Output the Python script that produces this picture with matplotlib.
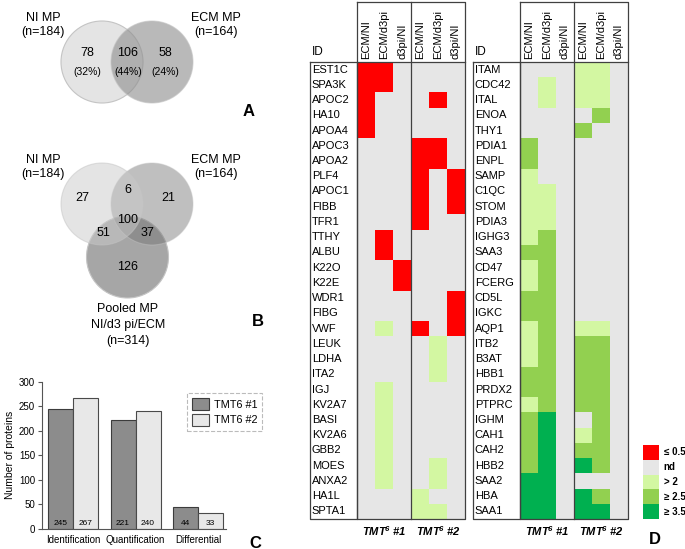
"""
Proteomics summary figure: Venn diagrams (A, B), protein counts (C)
and ratio heatmap of differential proteins (D).
"""
import numpy as np
import matplotlib
matplotlib.use('Agg')
import matplotlib.pyplot as plt
from matplotlib.colors import ListedColormap, BoundaryNorm
from matplotlib.patches import Circle

plt.rcParams['font.family'] = ['Liberation Sans', 'DejaVu Sans']
plt.rcParams['mathtext.fontset'] = 'custom'
plt.rcParams['mathtext.rm'] = 'Liberation Sans:bold:italic'
plt.rcParams['mathtext.it'] = 'Liberation Sans:bold:italic'
plt.rcParams['mathtext.bf'] = 'Liberation Sans:bold:italic'

W, H = 685, 549

# ---- panel A: two-set venn
venn2_names = ['NI MP\n(n=184)', 'ECM MP\n(n=164)']
venn2_counts = [78, 106, 58]
venn2_pct = [32, 44, 24]

# ---- panel B: three-set venn (NI only, NI&ECM, ECM only, all, NI&pooled, ECM&pooled, pooled only)
venn3_names = ['NI MP\n(n=184)', 'ECM MP\n(n=164)', 'Pooled MP\nNI/d3 pi/ECM\n(n=314)']
venn3_counts = [27, 6, 21, 100, 51, 37, 126]

# ---- panel C
categories = ['Identification', 'Quantification', 'Differential']
tmt1 = [245, 221, 44]
tmt2 = [267, 240, 33]

# ---- panel D
ratio_cols = ['ECM/NI', 'ECM/d3pi', 'd3pi/NI']
# r: <=0.5, .: nd, 1: >2, 2: >=2.5, 3: >=3.5 ; columns TMT6#1 x3 then TMT6#2 x3
ids_left = ['EST1C', 'SPA3K', 'APOC2', 'HA10', 'APOA4', 'APOC3', 'APOA2', 'PLF4',
            'APOC1', 'FIBB', 'TFR1', 'TTHY', 'ALBU', 'K22O', 'K22E', 'WDR1', 'FIBG',
            'VWF', 'LEUK', 'LDHA', 'ITA2', 'IGJ', 'KV2A7', 'BASI', 'KV2A6', 'GBB2',
            'MOES', 'ANXA2', 'HA1L', 'SPTA1']
codes_left = ['rr....', 'rr....', 'r...r.', 'r.....', 'r.....', '...rr.', '...rr.',
              '...r.r', '...r.r', '...r.r', '...r..', '.r....', '.r....', '..r...',
              '..r...', '.....r', '.....r', '.1.r.r', '....1.', '....1.', '....1.',
              '.1....', '.1....', '.1....', '.1....', '.1....', '.1..1.', '.1..1.',
              '...1..', '...11.']
ids_right = ['ITAM', 'CDC42', 'ITAL', 'ENOA', 'THY1', 'PDIA1', 'ENPL', 'SAMP', 'C1QC',
             'STOM', 'PDIA3', 'IGHG3', 'SAA3', 'CD47', 'FCERG', 'CD5L', 'IGKC', 'AQP1',
             'ITB2', 'B3AT', 'HBB1', 'PRDX2', 'PTPRC', 'IGHM', 'CAH1', 'CAH2', 'HBB2',
             'SAA2', 'HBA', 'SAA1']
codes_right = ['...11.', '.1.11.', '.1.11.', '....2.', '...2..', '2.....', '2.....',
               '1.....', '11....', '11....', '11....', '12....', '22....', '12....',
               '12....', '22....', '22....', '12.11.', '12.22.', '12.22.', '22.22.',
               '22.22.', '12.22.', '23..2.', '23.12.', '23.22.', '23.32.', '33....',
               '33.32.', '33.33.']
legend_labels = ['\u2264 0.5', 'nd', '> 2', '\u2265 2.5', '\u2265 3.5']

code_map = {'r': -1, '.': 0, '1': 1, '2': 2, '3': 3}
cmap = ListedColormap(['#ff0000', '#e6e6e6', '#d3f7a2', '#92d050', '#00b050'])
norm = BoundaryNorm([-1.5, -0.5, 0.5, 1.5, 2.5, 3.5], cmap.N)


def px_box(x0, y0, x1, y1):
    return [x0 / W, 1 - y1 / H, (x1 - x0) / W, (y1 - y0) / H]


fig = plt.figure(figsize=(6.85, 5.49), dpi=100)

# background axes in pixel units for venns and panel letters
bg = fig.add_axes([0, 0, 1, 1])
bg.set_xlim(0, W)
bg.set_ylim(H, 0)
bg.axis('off')

# A
circ_kw = dict(edgecolor='#c4c4c4', linewidth=0.8)
bg.add_patch(Circle((102, 62), 41, facecolor='#e4e4e4', **circ_kw))
bg.add_patch(Circle((152, 62), 41, facecolor='#909090', alpha=0.63, **circ_kw))
for x, name in zip([43, 216], venn2_names):
    bg.text(x, 25, name, ha='center', va='center', fontsize=9, linespacing=1.3)
for x, n, p in zip([87, 128, 165], venn2_counts, venn2_pct):
    bg.text(x, 53, str(n), ha='center', va='center', fontsize=9)
    bg.text(x, 72, f'({p}%)', ha='center', va='center', fontsize=7.5)
bg.text(249, 112, 'A', ha='center', va='center', fontsize=12, fontweight='bold')

# B
bg.add_patch(Circle((127.5, 257), 41, facecolor='#a6a6a6', **circ_kw))
bg.add_patch(Circle((152, 204), 41, facecolor='#717171', alpha=0.45, **circ_kw))
bg.add_patch(Circle((102, 204), 41, facecolor='#cacaca', alpha=0.51, **circ_kw))
bg.text(43, 167, venn3_names[0], ha='center', va='center', fontsize=9, linespacing=1.3)
bg.text(216, 167, venn3_names[1], ha='center', va='center', fontsize=9, linespacing=1.3)
bg.text(128, 325, venn3_names[2], ha='center', va='center', fontsize=9, linespacing=1.45)
for (x, y), n in zip([(82, 198), (128, 190), (168, 198), (128, 220), (103, 233),
                      (148, 233), (128, 267)], venn3_counts):
    bg.text(x, y, str(n), ha='center', va='center', fontsize=9)
bg.text(258, 322, 'B', ha='center', va='center', fontsize=12, fontweight='bold')

# C
ax = fig.add_axes(px_box(42, 381.7, 226, 529))
x = np.arange(len(categories))
bw = 0.4
ax.bar(x - bw / 2, tmt1, bw, color='#8c8c8c', edgecolor='#3c3c3c', linewidth=0.8, label='TMT6 #1')
ax.bar(x + bw / 2, tmt2, bw, color='#e8e8e8', edgecolor='#4a4a4a', linewidth=0.8, label='TMT6 #2')
for xi, a, b in zip(x, tmt1, tmt2):
    ax.text(xi - bw / 2, 4, str(a), ha='center', va='bottom', fontsize=6)
    ax.text(xi + bw / 2, 4, str(b), ha='center', va='bottom', fontsize=6)
ax.set_xlim(-0.5, 2.45)
ax.set_ylim(0, 300)
ax.set_yticks(range(0, 301, 50))
ax.set_xticks(x)
ax.set_xticklabels(categories, fontsize=7)
ax.tick_params(axis='x', length=0, pad=4)
ax.tick_params(axis='y', labelsize=7, length=3, color='#555555', pad=2)
ax.set_ylabel('Number of proteins', fontsize=7.5, labelpad=3)
for s in ['top', 'right']:
    ax.spines[s].set_visible(False)
for s in ['left', 'bottom']:
    ax.spines[s].set_color('#555555')
    ax.spines[s].set_linewidth(0.8)
leg = ax.legend(loc='upper left', bbox_to_anchor=(187 / W, 1 - 393 / H),
                bbox_transform=fig.transFigure, borderaxespad=0, fancybox=False,
                fontsize=7.8, handlelength=1.6, handleheight=1.4, handletextpad=0.4,
                borderpad=0.45, labelspacing=0.3, edgecolor='#aaaaaa')
leg.get_frame().set_linestyle('--')
leg.get_frame().set_linewidth(0.8)
bg.text(255, 543, 'C', ha='center', va='center', fontsize=12, fontweight='bold')

# D
row_top, row_bot = 62, 519
row_h = (row_bot - row_top) / 30
col_w = 18
id_w = 47 / col_w
hdr_h = (row_top - 2) / row_h
line_kw = dict(color='#404040', linewidth=0.9, clip_on=False)


def heat_panel(x0, ids, rows):
    hx = fig.add_axes(px_box(x0, 2, x0 + 47 + 6 * col_w, row_bot))
    vals = np.array([[code_map[c] for c in r] for r in rows])
    hx.pcolormesh(np.arange(7), np.arange(31), vals, cmap=cmap, norm=norm)
    hx.set_xlim(-id_w, 6)
    hx.set_ylim(30, -hdr_h)
    hx.axis('off')
    # boxes
    hx.plot([-id_w, 0, 0, -id_w, -id_w], [0, 0, 30, 30, 0], **line_kw)
    hx.plot([0, 6, 6, 0, 0], [-hdr_h, -hdr_h, 30, 30, -hdr_h], **line_kw)
    hx.plot([0, 6], [0, 0], **line_kw)
    hx.plot([3, 3], [-hdr_h, 30], **line_kw)
    for i, name in enumerate(ids):
        hx.text(-id_w + 0.1, i + 0.5, name, ha='left', va='center', fontsize=8)
    hx.text(-id_w + 0.1, -0.25, 'ID', ha='left', va='bottom', fontsize=8.5)
    for j in range(6):
        hx.text(j + 0.5, -0.2, ratio_cols[j % 3], rotation=90, ha='center',
                va='bottom', fontsize=8)
    for g, lab in enumerate(['TMT$^{6}$ #1', 'TMT$^{6}$ #2']):
        hx.text(1.5 + 3 * g, 30.8, lab, ha='center', va='center', fontsize=8,
                fontweight='bold', style='italic')
    return hx


heat_panel(310, ids_left, codes_left)
heat_panel(473, ids_right, codes_right)

lx = fig.add_axes(px_box(643, 445, 659, 519))
lx.pcolormesh(np.arange(2), np.arange(6), np.array([[-1], [0], [1], [2], [3]]),
              cmap=cmap, norm=norm)
lx.set_xlim(0, 1)
lx.set_ylim(5, 0)
lx.axis('off')
for i, lab in enumerate(legend_labels):
    lx.text(1.3, i + 0.5, lab, ha='left', va='center', fontsize=7, fontweight='bold',
            clip_on=False)
bg.text(655, 540, 'D', ha='center', va='center', fontsize=12, fontweight='bold')

fig.savefig('out.png', dpi=100, facecolor='white')
plt.close()
